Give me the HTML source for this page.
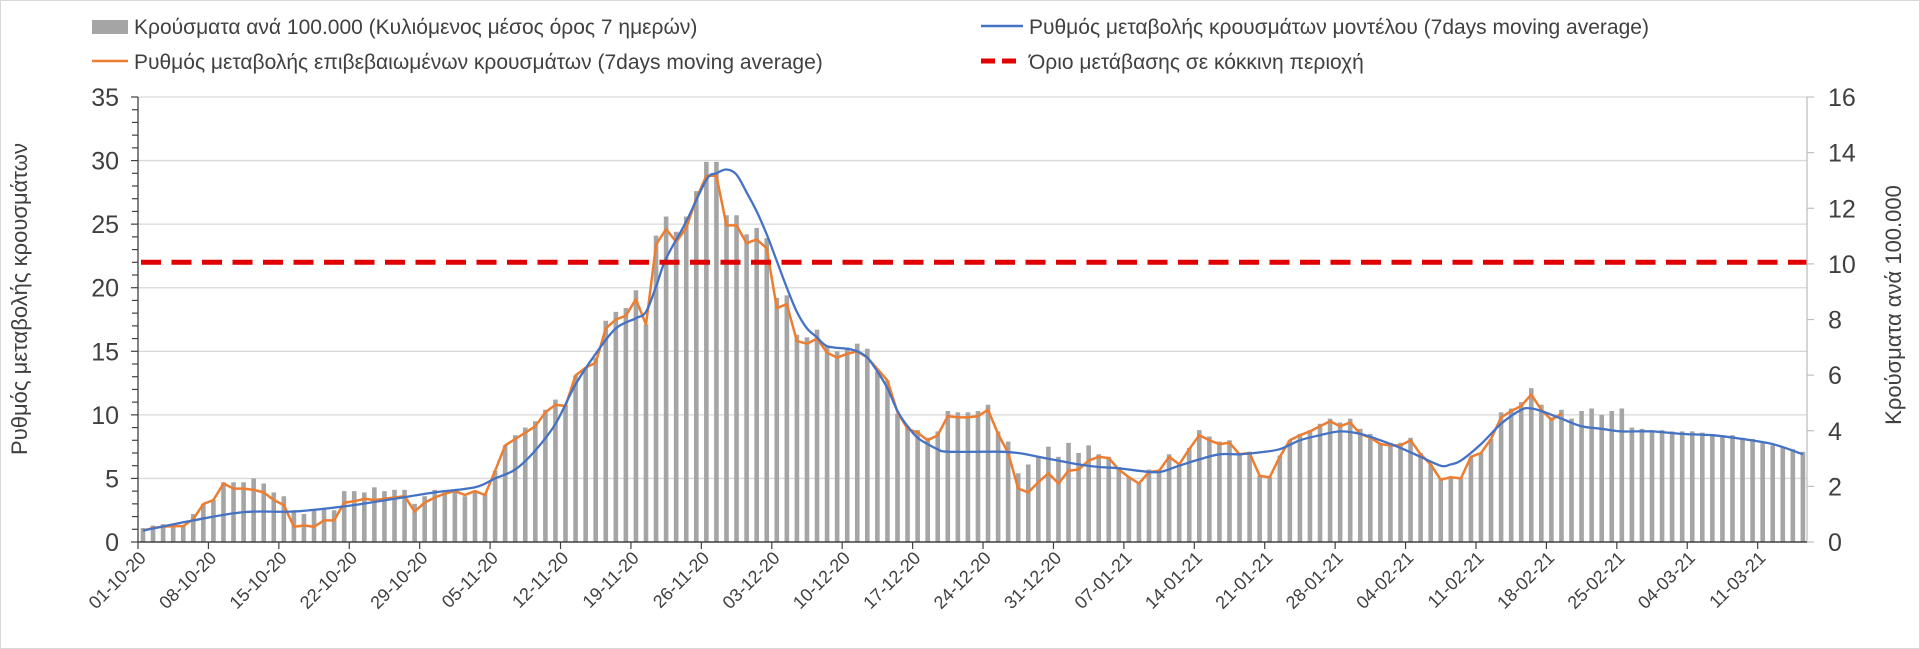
<!DOCTYPE html>
<html><head><meta charset="utf-8">
<style>
html,body{margin:0;padding:0;background:#fff;}
#wrap{position:relative;width:1920px;height:649px;overflow:hidden;box-sizing:border-box;border:1px solid #d9d9d9;}
svg{position:absolute;left:0;top:0;}
text{font-family:"Liberation Sans",Arial,sans-serif;fill:#404040;}
</style></head>
<body><div id="wrap">
<svg id="s" width="1920" height="649" xmlns="http://www.w3.org/2000/svg">
<g id="grid"></g><g id="bars"></g><g id="lines"></g><g id="axes"></g><g id="labels"></g>
<!-- legend -->
<rect x="91" y="19" width="36" height="14" fill="#a5a5a5"/>
<text x="133" y="33" font-size="21">Κρούσματα ανά 100.000 (Κυλιόμενος μέσος όρος 7 ημερών)</text>
<line x1="91" y1="60" x2="127" y2="60" stroke="#ED7D31" stroke-width="2.5"/>
<text x="133" y="68" font-size="21">Ρυθμός μεταβολής επιβεβαιωμένων κρουσμάτων (7days moving average)</text>
<line x1="980" y1="25" x2="1022" y2="25" stroke="#4472C4" stroke-width="2.5"/>
<text x="1028" y="33" font-size="21">Ρυθμός μεταβολής κρουσμάτων μοντέλου (7days moving average)</text>
<line x1="980" y1="60" x2="1022" y2="60" stroke="#e00000" stroke-width="5" stroke-dasharray="14,7"/>
<text x="1028" y="68" font-size="21">Όριο μετάβασης σε κόκκινη περιοχή</text>
<text transform="translate(26,298) rotate(-90)" text-anchor="middle" font-size="22">Ρυθμός μεταβολής κρουσμάτων</text>
<text transform="translate(1900,304) rotate(-90)" text-anchor="middle" font-size="22">Κρούσματα ανά 100.000</text>
</svg>
</div>
<script>
var NS="http://www.w3.org/2000/svg";
function el(p,t,a,txt){var e=document.createElementNS(NS,t);for(var k in a)e.setAttribute(k,a[k]);if(txt!==undefined)e.textContent=txt;document.getElementById(p).appendChild(e);return e;}
var X0=137,X1=1806,Y0=541,PU=12.714,DX=10.06;
function X(i){return 142+DX*i;}
function Y(v){return Y0-v*PU;}
// grid
for(var v=5;v<=35;v+=5){el("grid","line",{x1:X0,x2:X1,y1:Y(v),y2:Y(v),stroke:"#d9d9d9","stroke-width":1.3});}
var bars=[1.1,1.3,1.4,1.3,1.3,2.2,3.0,3.3,4.7,4.7,4.7,5.0,4.6,3.9,3.6,2.5,2.2,2.5,2.6,2.5,4.0,4.0,3.9,4.3,4.0,4.1,4.1,3.0,3.6,4.1,3.9,4.1,3.6,4.0,3.8,5.6,7.6,8.4,9.0,9.5,10.4,11.2,10.8,13.1,13.7,14.5,17.4,18.1,18.4,19.8,17.1,24.1,25.6,24.4,25.6,27.6,29.9,
29.9,25.7,25.7,24.2,24.7,23.9,19.2,19.4,16.3,16.1,16.7,15.4,15.0,15.3,15.6,15.2,13.4,12.7,10.1,9.1,8.8,8.2,8.7,10.3,10.2,10.2,10.3,10.8,8.7,7.9,5.4,6.1,6.7,7.5,6.7,7.8,7.0,7.6,6.9,6.7,5.9,5.1,4.6,5.7,5.7,6.9,6.1,7.4,8.8,8.3,7.9,8.0,7.0,7.1,5.2,5.1,
6.8,8.0,8.5,8.8,9.3,9.7,9.4,9.7,8.9,8.5,7.7,7.8,7.8,8.2,7.0,6.1,5.0,5.1,5.0,6.7,7.0,8.1,10.2,10.5,11.0,12.1,10.8,9.8,10.4,9.7,10.3,10.5,10.0,10.3,10.5,9.0,8.9,8.8,8.8,8.7,8.7,8.7,8.6,8.5,8.4,8.4,8.2,8.1,7.9,7.6,7.5,7.3,7.1];
bars.forEach(function(b,i){el("bars","rect",{x:X(i)-2.3,y:Y(b),width:4.6,height:b*PU,fill:"#a5a5a5"});});
var org=[0.9,1.1,1.2,1.25,1.25,1.8,3.0,3.3,4.6,4.2,4.2,4.1,3.9,3.3,2.9,1.2,1.3,1.2,1.7,1.7,3.1,3.2,3.4,3.3,3.4,3.5,3.6,2.4,3.1,3.5,3.8,4.0,3.7,4.0,3.7,5.6,7.6,8.1,8.6,9.1,10.2,10.8,10.7,13.1,13.7,14.1,16.8,17.5,17.8,19.1,17.1,23.4,24.6,23.6,24.7,27.0,28.8,
28.8,24.9,24.9,23.5,23.8,23.1,18.4,18.7,15.8,15.6,16.0,14.9,14.5,14.8,15.0,14.5,13.6,12.7,10.2,8.9,8.6,8.0,8.4,9.9,9.8,9.8,9.9,10.4,8.5,7.0,4.2,3.9,4.7,5.4,4.6,5.6,5.7,6.4,6.7,6.6,5.7,5.1,4.6,5.5,5.6,6.7,6.1,7.3,8.4,8.0,7.7,7.8,6.9,7.0,5.2,5.1,
6.7,8.0,8.4,8.7,9.1,9.5,9.1,9.4,8.5,8.2,7.7,7.6,7.6,8.0,6.9,6.1,4.9,5.1,5.0,6.7,7.0,8.1,9.8,10.3,10.7,11.6,10.4,9.6,10.1];
el("lines","polyline",{points:org.map(function(v,i){return X(i).toFixed(1)+","+Y(v).toFixed(1);}).join(" "),fill:"none",stroke:"#ED7D31","stroke-width":2.5,"stroke-linejoin":"round"});
var blue=[[0,0.9],[5,1.7],[10,2.35],[15,2.4],[20,2.8],[25,3.4],[29,3.9],[33,4.3],[35,5.0],[37,5.7],[39,7.2],[41,9.3],[43,12.4],[45,14.8],[47,16.8],[49,17.6],[50,18.1],[51,20.1],[52,22.3],[54,25.2],[56,28.5],[57,29.0],[58,29.3],[59,28.9],[60,27.5],[61,26.0],[62,24.2],[63,22.1],[64,20.0],[65,18.1],[66,16.8],[67,16.1],[68,15.4],[70,15.2],[71,15.0],[72,14.5],[73,13.4],[74,12.1],[75,10.3],[76,9.1],[77,8.2],[78,7.7],[79,7.3],[80,7.1],[85,7.1],[87,7.0],[89,6.7],[91,6.4],[93,6.1],[95,5.9],[97,5.8],[99,5.6],[101,5.5],[103,6.0],[105,6.5],[107,6.9],[109,6.9],[111,7.05],[113,7.3],[115,8.0],[117,8.4],[119,8.7],[121,8.5],[123,8.0],[125,7.4],[127,6.7],[129,6.0],[130,6.1],[131,6.4],[133,7.7],[135,9.3],[137,10.4],[138,10.5],[139,10.3],[141,9.7],[143,9.1],[145,8.9],[147,8.7],[150,8.7],[153,8.5],[156,8.4],[159,8.1],[162,7.7],[165,6.9]];
var P=blue.map(function(p){return [X(p[0]),Y(p[1])];});
var d="M"+P[0][0]+","+P[0][1];
for(var i=0;i<P.length-1;i++){var p0=P[i>0?i-1:i],p1=P[i],p2=P[i+1],p3=P[i+2<P.length?i+2:i+1];
var c1x=p1[0]+(p2[0]-p0[0])/6,c1y=p1[1]+(p2[1]-p0[1])/6,c2x=p2[0]-(p3[0]-p1[0])/6,c2y=p2[1]-(p3[1]-p1[1])/6;
d+=" C"+c1x.toFixed(1)+","+c1y.toFixed(1)+" "+c2x.toFixed(1)+","+c2y.toFixed(1)+" "+p2[0].toFixed(1)+","+p2[1].toFixed(1);}
el("lines","path",{d:d,fill:"none",stroke:"#4472C4","stroke-width":2.3});
el("lines","line",{x1:140,x2:X1,y1:Y(22),y2:Y(22),stroke:"#e00000","stroke-width":5,"stroke-dasharray":"20,10.5"});
// axes
el("axes","line",{x1:X0,x2:X0,y1:Y(35),y2:Y0,stroke:"#404040","stroke-width":1.3});
el("axes","line",{x1:X1,x2:X1,y1:Y(35),y2:Y0,stroke:"#bfbfbf","stroke-width":1.3});
el("axes","line",{x1:X0,x2:X1,y1:Y0,y2:Y0,stroke:"#404040","stroke-width":1.5});
for(var v=0;v<=35;v++){var mj=v%5==0;el("axes","line",{x1:mj?X0-7:X0-6,x2:X0,y1:Y(v),y2:Y(v),stroke:"#404040","stroke-width":1.2});
 if(mj)el("labels","text",{x:118,y:Y(v)+9,"text-anchor":"end","font-size":25},String(v));}
var RU=(Y0-Y(35))/16;
for(var r=0;r<=16;r+=2){var yy=Y0-r*RU;el("axes","line",{x1:X1,x2:X1+7,y1:yy,y2:yy,stroke:"#bfbfbf","stroke-width":1.2});
 el("labels","text",{x:1827,y:yy+9,"font-size":25},String(r));}
var dates=["01-10-20","08-10-20","15-10-20","22-10-20","29-10-20","05-11-20","12-11-20","19-11-20","26-11-20","03-12-20","10-12-20","17-12-20","24-12-20","31-12-20","07-01-21","14-01-21","21-01-21","28-01-21","04-02-21","11-02-21","18-02-21","25-02-21","04-03-21","11-03-21"];
dates.forEach(function(t,k){var x=X0+DX*7*k;el("axes","line",{x1:x,x2:x,y1:Y0,y2:Y0+7,stroke:"#404040","stroke-width":1.2});
 el("labels","text",{transform:"translate("+(x+9)+","+(Y0+17)+") rotate(-45)","text-anchor":"end","font-size":18},t);});
</script>
</body></html>
